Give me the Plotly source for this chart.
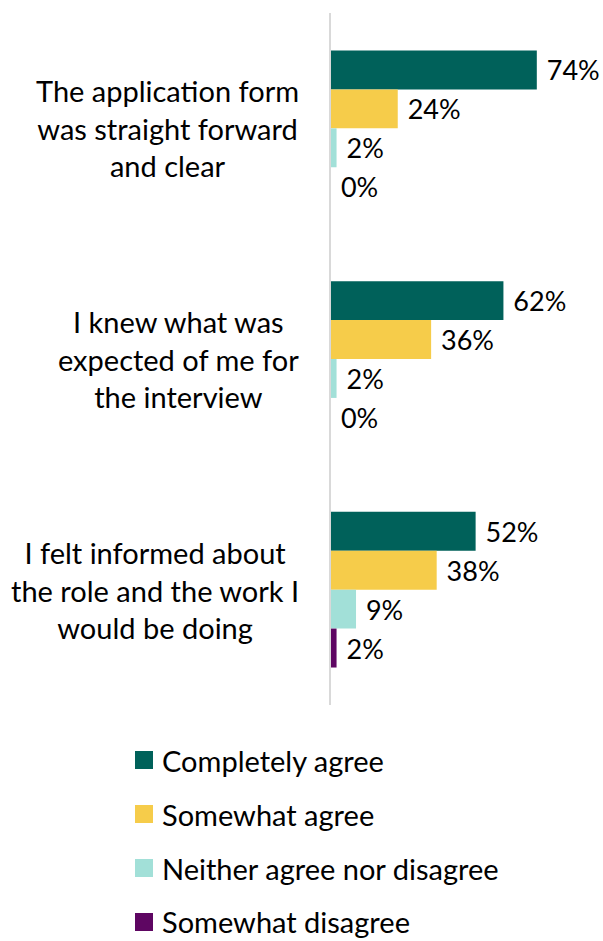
import plotly.graph_objects as go

# Survey statements (top to bottom) and response shares in percent
statements = [
    "The application form<br>was straight forward<br>and clear",
    "I knew what was<br>expected of me for<br>the interview",
    "I felt informed about<br>the role and the work I<br>would be doing",
]
series_names = [
    "Completely agree",
    "Somewhat agree",
    "Neither agree nor disagree",
    "Somewhat disagree",
]
completely_agree = [74, 62, 52]
somewhat_agree = [24, 36, 38]
neither = [2, 2, 9]
somewhat_disagree = [0, 0, 2]
series_values = [completely_agree, somewhat_agree, neither, somewhat_disagree]
series_colors = ["#00615A", "#F6CC4A", "#A2E0D8", "#5E0662"]

FONT = "Lato"
LABEL_SIZE = 29
VALUE_SIZE = 27
W_PX, H_PX = 603, 941
M_L, M_R, M_T, M_B = 331, 0, 13, 236
plot_w = W_PX - M_L - M_R
plot_h = H_PX - M_T - M_B


def px_x(px):
    return (px - M_L) / plot_w


def px_y(py):
    return (H_PX - M_B - py) / plot_h


fig = go.Figure()
for name, vals, color in zip(series_names, series_values, series_colors):
    fig.add_trace(go.Bar(
        y=statements,
        x=vals,
        orientation="h",
        name=name,
        marker=dict(color=color, line=dict(width=0)),
        texttemplate="\u00a0%{x}%",
        textposition="outside",
        textfont=dict(family=FONT, size=VALUE_SIZE, color="#000000"),
        cliponaxis=False,
        showlegend=False,
        hoverinfo="skip",
    ))

# Statement labels: block right-aligned to the axis, lines centred
annotations = []
for s in statements:
    annotations.append(dict(
        x=px_x(301), xref="paper", xanchor="right",
        y=s, yref="y", yanchor="middle",
        text=s, align="center", showarrow=False,
        font=dict(family=FONT, size=LABEL_SIZE, color="#000000"),
    ))

# Legend: coloured squares with labels, stacked below the plot
shapes = []
for i, (name, color) in enumerate(zip(series_names, series_colors)):
    row = 760 + 54 * i
    shapes.append(dict(
        type="rect", xref="paper", yref="paper",
        x0=px_x(135), x1=px_x(153), y0=px_y(row + 9), y1=px_y(row - 9),
        fillcolor=color, line=dict(width=0),
    ))
    annotations.append(dict(
        x=px_x(160), xref="paper", xanchor="left",
        y=px_y(row), yref="paper", yanchor="middle",
        text=name, showarrow=False,
        font=dict(family=FONT, size=LABEL_SIZE, color="#000000"),
    ))

fig.update_layout(
    width=W_PX, height=H_PX,
    margin=dict(l=M_L, r=M_R, t=M_T, b=M_B, pad=0),
    barmode="group",
    bargap=0.325,
    bargroupgap=0,
    plot_bgcolor="#FFFFFF",
    paper_bgcolor="#FFFFFF",
    font=dict(family=FONT, size=LABEL_SIZE, color="#000000"),
    xaxis=dict(range=[0, 97.8], visible=False, fixedrange=True),
    yaxis=dict(
        autorange="reversed", showticklabels=False, ticks="",
        showgrid=False, zeroline=False,
        showline=True, linecolor="#D9D9D9", linewidth=2,
    ),
    annotations=annotations,
    shapes=shapes,
    showlegend=False,
)

fig.write_html("out.html")
